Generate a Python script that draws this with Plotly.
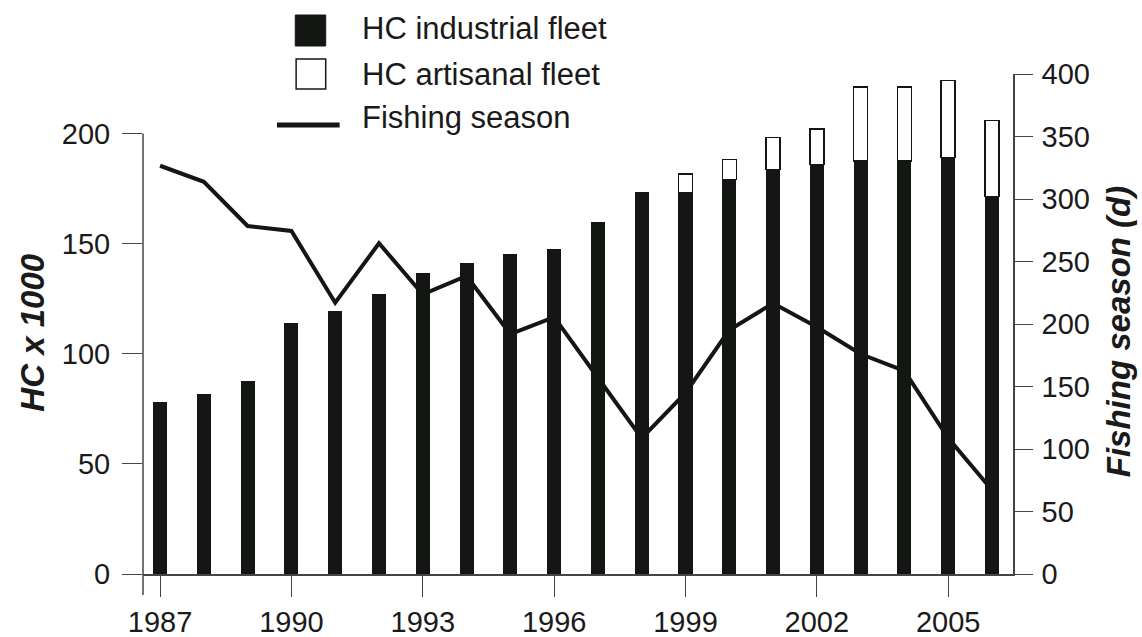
import plotly.graph_objs as go

# %% data
years = list(range(1987, 2007))
hc_industrial = [77.9, 81.8, 87.4, 113.9, 119.3, 127.2, 136.8, 141.4, 145.4, 147.5,
                 160.0, 173.3, 173.3, 179.0, 183.7, 185.9, 187.6, 187.6, 189.1, 171.3]
hc_artisanal = [None] * 12 + [8.4, 9.2, 14.5, 16.2, 33.4, 33.4, 35.0, 34.7]
fishing_season = [326.6, 313.8, 278.4, 274.4, 217.0, 264.6, 223.8, 238.4, 192.0, 205.5,
                  157.0, 108.6, 144.8, 195.2, 216.6, 197.6, 176.0, 162.4, 108.8, 67.2]
series_names = ['HC industrial fleet', 'HC artisanal fleet', 'Fishing season']
axis_titles = ['HC x 1000', 'Fishing season (d)']
x_ticks = [1987, 1990, 1993, 1996, 1999, 2002, 2005]
left_ticks = [0, 50, 100, 150, 200]
right_ticks = [0, 50, 100, 150, 200, 250, 300, 350, 400]

FONT = 'Liberation Sans, Arial, Helvetica, sans-serif'
INK = '#141614'
AXIS = '#444444'
LEFT_TOP = 227.0

# pin the graph to the top-left corner of the page
PIN_JS = ("document.body.style.margin='0';"
          "var g=document.getElementById('{plot_id}');"
          "g.style.position='fixed';g.style.top='0';g.style.left='0';")


# %%
def build_fig():
    fig = go.Figure()
    fig.add_trace(go.Bar(x=years, y=hc_industrial, name=series_names[0],
                         width=0.32, marker=dict(color=INK, line=dict(width=0)),
                         showlegend=False))
    fig.add_trace(go.Bar(x=years, y=hc_artisanal, name=series_names[1],
                         width=0.32,
                         marker=dict(color='white', line=dict(color=INK, width=1.5)),
                         showlegend=False))
    fig.add_trace(go.Scatter(x=years, y=fishing_season, name=series_names[2],
                             mode='lines', yaxis='y2',
                             line=dict(color=INK, width=4),
                             showlegend=False))

    tick_font = dict(family=FONT, size=29, color='#1a1a1a')
    title_font = dict(family=FONT, size=33, color='#1a1a1a',
                      weight='bold', style='italic')
    fig.update_layout(
        width=1142, height=637,
        margin=dict(l=143, r=129, t=74, b=63, autoexpand=False),
        paper_bgcolor='white', plot_bgcolor='white',
        barmode='stack',
        xaxis=dict(range=[1986.61, 2006.48], tickvals=x_ticks, automargin=False,
                   ticks='outside', ticklen=21, tickwidth=1.2, tickcolor=AXIS,
                   showline=True, linecolor=AXIS, linewidth=1.5,
                   showgrid=False, zeroline=False, tickfont=tick_font),
        yaxis=dict(range=[0, LEFT_TOP], tickvals=left_ticks, automargin=False,
                   ticks='outside', ticklen=20, tickwidth=1.2, tickcolor=AXIS,
                   ticklabelstandoff=6,
                   showline=False, showgrid=False, zeroline=False,
                   tickfont=tick_font),
        yaxis2=dict(range=[0, 400], tickvals=right_ticks, overlaying='y',
                    automargin=False,
                    side='right', ticks='outside', ticklen=18, tickwidth=1.2,
                    ticklabelstandoff=3,
                    tickcolor=AXIS, showline=True, linecolor=AXIS, linewidth=1.5,
                    showgrid=False, zeroline=False, tickfont=tick_font),
    )

    # axis titles, placed by hand so they sit where the reference has them
    for text, xp, yp in zip(axis_titles, [-0.128, 1.121], [0.482, 0.486]):
        fig.add_annotation(text=text, xref='paper', yref='paper', x=xp, y=yp,
                           textangle=-90, xanchor='center', yanchor='middle',
                           showarrow=False, font=title_font)

    # left axis line only runs up to the 200 tick, and a bit below zero
    fig.add_shape(type='line', xref='paper', yref='paper',
                  x0=0, x1=0, y0=-0.042, y1=200 / LEFT_TOP,
                  line=dict(color=AXIS, width=1.5))

    # hand-made legend above the plot
    fig.add_shape(type='rect', xref='paper', yref='paper',
                  x0=0.175, x1=0.210, y0=1.056, y1=1.118,
                  fillcolor=INK, line=dict(color=INK, width=1))
    fig.add_shape(type='rect', xref='paper', yref='paper',
                  x0=0.176, x1=0.210, y0=0.970, y1=1.030,
                  fillcolor='white', line=dict(color=INK, width=1.5))
    fig.add_shape(type='line', xref='paper', yref='paper',
                  x0=0.154, x1=0.226, y0=0.898, y1=0.898,
                  line=dict(color=INK, width=5))
    for name, yp in zip(series_names, [1.090, 1.000, 0.912]):
        fig.add_annotation(text=name, xref='paper', yref='paper',
                           x=0.249, y=yp, xanchor='left', yanchor='middle',
                           showarrow=False,
                           font=dict(family=FONT, size=31, color='#1a1a1a'))
    return fig


def main():
    fig = build_fig()
    fig.write_html("out.html", config={'displayModeBar': False},
                   post_script=PIN_JS)


if __name__ == '__main__':
    main()
